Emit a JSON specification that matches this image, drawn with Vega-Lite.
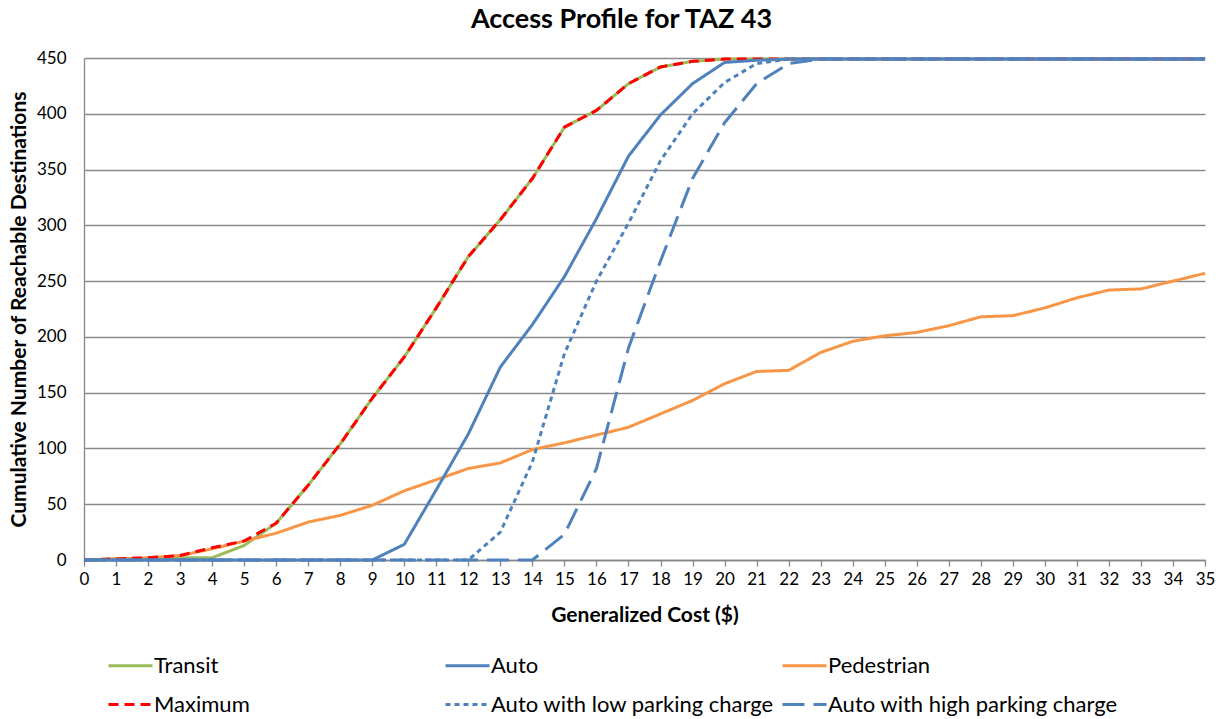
{
  "$schema": "https://vega.github.io/schema/vega-lite/v6.json",
  "width": 1121,
  "height": 502,
  "autosize": {"type": "none"},
  "padding": {"left": 84, "top": 58, "right": 19, "bottom": 159},
  "background": "white",
  "config": {
    "font": "Lato",
    "view": {"stroke": null},
    "axis": {"labelFont": "Lato", "titleFont": "Lato", "labelColor": "#000000", "titleColor": "#000000"}
  },
  "title": {"text": "Access Profile for TAZ 43", "fontSize": 27, "fontWeight": "bold", "font": "Lato", "color": "#000000", "anchor": "middle", "offset": 15, "dx": -23},
  "data": {
    "values": [
      {"c": 0, "Transit": 0, "Pedestrian": 0, "Maximum": 0, "Auto": 0, "Auto with low parking charge": 0, "Auto with high parking charge": 0},
      {"c": 1, "Transit": 1, "Pedestrian": 1, "Maximum": 1, "Auto": 0, "Auto with low parking charge": 0, "Auto with high parking charge": 0},
      {"c": 2, "Transit": 1, "Pedestrian": 2, "Maximum": 2, "Auto": 0, "Auto with low parking charge": 0, "Auto with high parking charge": 0},
      {"c": 3, "Transit": 2, "Pedestrian": 4, "Maximum": 4, "Auto": 0, "Auto with low parking charge": 0, "Auto with high parking charge": 0},
      {"c": 4, "Transit": 2, "Pedestrian": 10, "Maximum": 11, "Auto": 0, "Auto with low parking charge": 0, "Auto with high parking charge": 0},
      {"c": 5, "Transit": 13, "Pedestrian": 17, "Maximum": 17, "Auto": 0, "Auto with low parking charge": 0, "Auto with high parking charge": 0},
      {"c": 6, "Transit": 33, "Pedestrian": 24, "Maximum": 33, "Auto": 0, "Auto with low parking charge": 0, "Auto with high parking charge": 0},
      {"c": 7, "Transit": 67, "Pedestrian": 34, "Maximum": 67, "Auto": 0, "Auto with low parking charge": 0, "Auto with high parking charge": 0},
      {"c": 8, "Transit": 104, "Pedestrian": 40, "Maximum": 104, "Auto": 0, "Auto with low parking charge": 0, "Auto with high parking charge": 0},
      {"c": 9, "Transit": 145, "Pedestrian": 49, "Maximum": 145, "Auto": 0, "Auto with low parking charge": 0, "Auto with high parking charge": 0},
      {"c": 10, "Transit": 182, "Pedestrian": 62, "Maximum": 182, "Auto": 14, "Auto with low parking charge": 0, "Auto with high parking charge": 0},
      {"c": 11, "Transit": 226, "Pedestrian": 72, "Maximum": 226, "Auto": 63, "Auto with low parking charge": 0, "Auto with high parking charge": 0},
      {"c": 12, "Transit": 272, "Pedestrian": 82, "Maximum": 272, "Auto": 113, "Auto with low parking charge": 0, "Auto with high parking charge": 0},
      {"c": 13, "Transit": 305, "Pedestrian": 87, "Maximum": 305, "Auto": 173, "Auto with low parking charge": 25, "Auto with high parking charge": 0},
      {"c": 14, "Transit": 342, "Pedestrian": 99, "Maximum": 342, "Auto": 211, "Auto with low parking charge": 88, "Auto with high parking charge": 0},
      {"c": 15, "Transit": 388, "Pedestrian": 105, "Maximum": 388, "Auto": 254, "Auto with low parking charge": 185, "Auto with high parking charge": 23},
      {"c": 16, "Transit": 403, "Pedestrian": 112, "Maximum": 403, "Auto": 306, "Auto with low parking charge": 250, "Auto with high parking charge": 82},
      {"c": 17, "Transit": 427, "Pedestrian": 119, "Maximum": 427, "Auto": 362, "Auto with low parking charge": 302, "Auto with high parking charge": 190},
      {"c": 18, "Transit": 442, "Pedestrian": 131, "Maximum": 442, "Auto": 399, "Auto with low parking charge": 358, "Auto with high parking charge": 268},
      {"c": 19, "Transit": 447, "Pedestrian": 143, "Maximum": 447, "Auto": 427, "Auto with low parking charge": 400, "Auto with high parking charge": 342},
      {"c": 20, "Transit": 449, "Pedestrian": 158, "Maximum": 449, "Auto": 446, "Auto with low parking charge": 428, "Auto with high parking charge": 392},
      {"c": 21, "Transit": 449, "Pedestrian": 169, "Maximum": 449, "Auto": 448, "Auto with low parking charge": 445, "Auto with high parking charge": 427},
      {"c": 22, "Transit": 449, "Pedestrian": 170, "Maximum": 449, "Auto": 449, "Auto with low parking charge": 449, "Auto with high parking charge": 445},
      {"c": 23, "Transit": 449, "Pedestrian": 186, "Maximum": 449, "Auto": 449, "Auto with low parking charge": 449, "Auto with high parking charge": 449},
      {"c": 24, "Transit": 449, "Pedestrian": 196, "Maximum": 449, "Auto": 449, "Auto with low parking charge": 449, "Auto with high parking charge": 449},
      {"c": 25, "Transit": 449, "Pedestrian": 201, "Maximum": 449, "Auto": 449, "Auto with low parking charge": 449, "Auto with high parking charge": 449},
      {"c": 26, "Transit": 449, "Pedestrian": 204, "Maximum": 449, "Auto": 449, "Auto with low parking charge": 449, "Auto with high parking charge": 449},
      {"c": 27, "Transit": 449, "Pedestrian": 210, "Maximum": 449, "Auto": 449, "Auto with low parking charge": 449, "Auto with high parking charge": 449},
      {"c": 28, "Transit": 449, "Pedestrian": 218, "Maximum": 449, "Auto": 449, "Auto with low parking charge": 449, "Auto with high parking charge": 449},
      {"c": 29, "Transit": 449, "Pedestrian": 219, "Maximum": 449, "Auto": 449, "Auto with low parking charge": 449, "Auto with high parking charge": 449},
      {"c": 30, "Transit": 449, "Pedestrian": 226, "Maximum": 449, "Auto": 449, "Auto with low parking charge": 449, "Auto with high parking charge": 449},
      {"c": 31, "Transit": 449, "Pedestrian": 235, "Maximum": 449, "Auto": 449, "Auto with low parking charge": 449, "Auto with high parking charge": 449},
      {"c": 32, "Transit": 449, "Pedestrian": 242, "Maximum": 449, "Auto": 449, "Auto with low parking charge": 449, "Auto with high parking charge": 449},
      {"c": 33, "Transit": 449, "Pedestrian": 243, "Maximum": 449, "Auto": 449, "Auto with low parking charge": 449, "Auto with high parking charge": 449},
      {"c": 34, "Transit": 449, "Pedestrian": 250, "Maximum": 449, "Auto": 449, "Auto with low parking charge": 449, "Auto with high parking charge": 449},
      {"c": 35, "Transit": 449, "Pedestrian": 257, "Maximum": 449, "Auto": 449, "Auto with low parking charge": 449, "Auto with high parking charge": 449}
    ]
  },
  "transform": [
    {"fold": ["Transit", "Pedestrian", "Maximum", "Auto", "Auto with low parking charge", "Auto with high parking charge"], "as": ["series", "value"]}
  ],
  "mark": {"type": "line", "strokeWidth": 3, "strokeJoin": "round"},
  "encoding": {
    "x": {
      "field": "c", "type": "quantitative",
      "scale": {"domain": [0, 35], "nice": false, "zero": true},
      "axis": {
        "title": "Generalized Cost ($)", "titleFontSize": 21, "titleFontWeight": "bold", "titlePadding": 17,
        "values": [0,1,2,3,4,5,6,7,8,9,10,11,12,13,14,15,16,17,18,19,20,21,22,23,24,25,26,27,28,29,30,31,32,33,34,35],
        "labelFontSize": 17, "labelPadding": 5, "labelFlush": false, "labelOverlap": false,
        "tickSize": 6, "tickColor": "#868686", "tickWidth": 1.3,
        "domainColor": "#868686", "domainWidth": 1.3, "grid": false
      }
    },
    "y": {
      "field": "value", "type": "quantitative",
      "scale": {"domain": [0, 450], "nice": false},
      "axis": {
        "title": "Cumulative Number of Reachable Destinations", "titleFontSize": 21, "titleFontWeight": "bold", "titlePadding": 7,
        "values": [0,50,100,150,200,250,300,350,400,450],
        "labelFontSize": 17, "labelPadding": 18, "labelFlush": false,
        "tickSize": 0, "domainColor": "#868686", "domainWidth": 1.3,
        "grid": true, "gridColor": "#8a8a8a", "gridWidth": 1.3
      }
    },
    "color": {
      "field": "series", "type": "nominal",
      "scale": {
        "domain": ["Transit", "Auto", "Pedestrian", "Maximum", "Auto with low parking charge", "Auto with high parking charge"],
        "range": ["#9BBB59", "#4F81BD", "#F79646", "#FF0000", "#4F81BD", "#4F81BD"]
      },
      "legend": {
        "title": null, "orient": "none", "legendX": 23, "legendY": 584,
        "direction": "horizontal", "columns": 3, "gridAlign": "all", "columnPadding": -9, "rowPadding": 4,
        "symbolType": "stroke", "symbolSize": 1936, "symbolStrokeWidth": 3,
        "labelFontSize": 22, "labelFont": "Lato", "labelColor": "#000000", "labelOffset": 0, "labelLimit": 400
      }
    },
    "strokeDash": {
      "field": "series", "type": "nominal",
      "scale": {
        "domain": ["Transit", "Auto", "Pedestrian", "Maximum", "Auto with low parking charge", "Auto with high parking charge"],
        "range": [[1, 0], [1, 0], [1, 0], [10, 6], [5, 4], [22, 9]]
      },
      "legend": {
        "title": null, "orient": "none", "legendX": 23, "legendY": 584,
        "direction": "horizontal", "columns": 3, "gridAlign": "all", "columnPadding": -9, "rowPadding": 4,
        "symbolType": "stroke", "symbolSize": 1936, "symbolStrokeWidth": 3,
        "labelFontSize": 22, "labelFont": "Lato", "labelColor": "#000000", "labelOffset": 0, "labelLimit": 400
      }
    }
  }
}
